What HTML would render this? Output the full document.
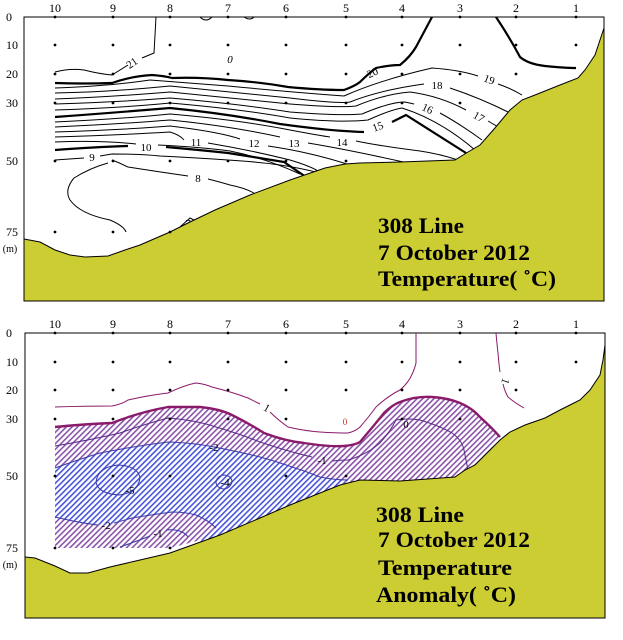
<!DOCTYPE html>
<html><head><meta charset="utf-8"><style>
body{margin:0;background:#fff}
svg{display:block}
text{font-family:"Liberation Serif",serif}
.t{font-size:12px}
.l{font-family:"Liberation Sans",sans-serif;font-size:11px}
.big{font-size:22px;font-weight:bold}
</style></head><body>
<svg width="623" height="640" viewBox="0 0 623 640" xmlns="http://www.w3.org/2000/svg">
<defs>
<pattern id="hp" width="4" height="4" patternUnits="userSpaceOnUse" patternTransform="rotate(45)"><rect width="4" height="4" fill="#fff"/><rect width="1.6" height="4" fill="#8a55aa"/></pattern>
<pattern id="hb" width="4" height="4" patternUnits="userSpaceOnUse" patternTransform="rotate(45)"><rect width="4" height="4" fill="#fff"/><rect width="1.6" height="4" fill="#4a55d8"/></pattern>
</defs>
<!-- TOP PANEL -->
<g>
<rect x="24" y="17" width="580" height="284" fill="#fff" stroke="#000"/>
<g class="t" text-anchor="middle">
<text x="55" y="12">10</text><text x="113" y="12">9</text><text x="170" y="12">8</text><text x="228" y="12">7</text><text x="286" y="12">6</text><text x="346" y="12">5</text><text x="402" y="12">4</text><text x="460" y="12">3</text><text x="516" y="12">2</text><text x="576" y="12">1</text>
<text x="9" y="21">0</text><text x="12" y="49">10</text><text x="12" y="78">20</text><text x="12" y="107">30</text><text x="12" y="165">50</text><text x="12" y="236">75</text><text x="10" y="252" font-size="10">(m)</text>
</g>
<g fill="none" stroke="#000" stroke-width="1">
<path d="M55,72 Q70,68 84,70 Q100,74 112,75 Q120,70 128,65 M142,58 L154,53 L156,17"/>
<path d="M55,88 Q110,86 150,80 Q200,84 228,86 Q290,92 344,96 Q380,80 432,68 Q460,70 478,76 M498,84 Q510,88 522,95"/>
<path d="M55,93 Q110,92 170,86 Q230,92 290,98 Q340,104 350,102 Q380,90 424,84 M450,88 Q480,98 508,112"/>
<path d="M55,99 Q110,97 170,92 Q230,98 290,104 Q340,108 356,106 Q385,94 410,92 Q440,96 466,110 M488,121 L500,128"/>
<path d="M55,104 Q120,102 170,98 Q240,104 290,112 Q340,116 362,114 Q390,102 405,102 L414,104 M440,113 Q460,124 482,140"/>
<path d="M55,110 Q120,108 170,103 Q240,109 290,118 Q340,123 368,120 Q390,110 402,108 Q440,120 475,150"/>
<path d="M55,122 Q120,119 170,114 Q240,120 290,130 Q322,136 330,137 M356,141 Q380,146 420,151 Q440,154 458,160"/>
<path d="M55,127 Q120,124 170,120 Q230,126 280,137 M308,143 Q350,150 408,163"/>
<path d="M55,132 Q120,130 170,126 Q220,132 240,139 M268,146 Q310,152 350,165"/>
<path d="M55,137 Q120,135 170,132 Q180,135 184,140 M208,143 Q250,150 290,160 Q310,166 318,171"/>
<path d="M55,142 Q100,140 136,144 M158,145 Q200,147 230,151 Q265,158 300,174"/>
<path d="M55,160 Q70,159 84,158 M100,156 Q106,155 112,154 Q140,154 160,156 Q200,158 228,160 Q260,162 280,165 Q300,168 320,173"/>
<path d="M112,160 Q120,163 128,167 Q160,172 188,176 M208,179 Q220,182 230,185 Q245,188 254,193"/>
<path d="M108,163 Q90,168 74,178 Q64,190 70,200 Q80,214 110,220 Q124,226 126,232"/>
<path d="M180,227 L190,218 L196,221"/>
<path d="M200,17 Q206,23 212,17 M244,17 Q250,21 254,17"/>
</g>
<g fill="none" stroke="#000" stroke-width="2.2">
<path d="M55,83 Q85,84 112,83 Q132,76 152,75 Q165,76 172,78 Q200,77 228,80 Q260,82 288,87 Q320,90 344,90 Q355,86 360,82 Q368,74 376,68 Q390,65 400,65 Q410,57 416,47 Q425,30 432,17"/>
<path d="M55,117 Q110,113 170,108 Q230,114 280,124 Q330,131 364,132 M392,122 L406,115 L466,153"/>
<path d="M55,150 Q95,147 128,146 M166,147 Q200,150 228,153 Q260,158 284,162 L306,177"/>
<path d="M496,17 Q510,38 520,57 Q528,64 545,66 Q565,68 576,68"/>
</g>
<g class="l" text-anchor="middle">
<text x="134" y="66" transform="rotate(-35 134 66)">21</text><text x="230" y="63" font-style="italic">0</text>
<text x="374" y="76" transform="rotate(-25 374 76)">20</text><text x="488" y="83" transform="rotate(20 488 83)">19</text>
<text x="437" y="89">18</text><text x="477" y="120" transform="rotate(30 477 120)">17</text>
<text x="426" y="112" transform="rotate(25 426 112)">16</text><text x="379" y="130" transform="rotate(-20 379 130)">15</text>
<text x="342" y="146">14</text><text x="294" y="147">13</text><text x="254" y="147">12</text><text x="196" y="146">11</text><text x="146" y="151">10</text><text x="92" y="161">9</text><text x="198" y="182">8</text><text x="188" y="227">7</text>
</g>
<polygon points="24,239 40,242 55,250 70,255 85,257 108,256 125,250 140,245 170,232 190,222 215,210 250,195 290,180 325,168 345,164 360,163 400,162 455,160 468,152 480,145 495,128 510,110 522,100 535,95 560,85 578,78 585,70 595,55 600,40 604,28 604,301 24,301" fill="#cccc33" stroke="#000"/>
<g fill="#000">
<circle cx="55" cy="17" r="1.4"/><circle cx="113" cy="17" r="1.4"/><circle cx="170" cy="17" r="1.4"/><circle cx="228" cy="17" r="1.4"/><circle cx="286" cy="17" r="1.4"/><circle cx="346" cy="17" r="1.4"/><circle cx="402" cy="17" r="1.4"/><circle cx="460" cy="17" r="1.4"/><circle cx="516" cy="17" r="1.4"/><circle cx="576" cy="17" r="1.4"/>
<circle cx="55" cy="45" r="1.4"/><circle cx="113" cy="45" r="1.4"/><circle cx="170" cy="45" r="1.4"/><circle cx="228" cy="45" r="1.4"/><circle cx="286" cy="45" r="1.4"/><circle cx="346" cy="45" r="1.4"/><circle cx="402" cy="45" r="1.4"/><circle cx="460" cy="45" r="1.4"/><circle cx="516" cy="45" r="1.4"/><circle cx="576" cy="45" r="1.4"/>
<circle cx="55" cy="74" r="1.4"/><circle cx="113" cy="74" r="1.4"/><circle cx="170" cy="74" r="1.4"/><circle cx="228" cy="74" r="1.4"/><circle cx="286" cy="74" r="1.4"/><circle cx="346" cy="74" r="1.4"/><circle cx="402" cy="74" r="1.4"/><circle cx="460" cy="74" r="1.4"/><circle cx="516" cy="74" r="1.4"/>
<circle cx="55" cy="103" r="1.4"/><circle cx="113" cy="103" r="1.4"/><circle cx="170" cy="103" r="1.4"/><circle cx="228" cy="103" r="1.4"/><circle cx="286" cy="103" r="1.4"/><circle cx="346" cy="103" r="1.4"/><circle cx="402" cy="103" r="1.4"/><circle cx="460" cy="103" r="1.4"/>
<circle cx="55" cy="161" r="1.4"/><circle cx="113" cy="161" r="1.4"/><circle cx="170" cy="161" r="1.4"/><circle cx="228" cy="161" r="1.4"/><circle cx="286" cy="161" r="1.4"/><circle cx="346" cy="161" r="1.4"/>
<circle cx="55" cy="232" r="1.4"/><circle cx="113" cy="232" r="1.4"/><circle cx="170" cy="232" r="1.4"/>
</g>
<g class="big"><text x="378" y="233" textLength="86" lengthAdjust="spacingAndGlyphs">308 Line</text><text x="378" y="260" textLength="152" lengthAdjust="spacingAndGlyphs">7 October 2012</text><text x="378" y="286" textLength="178" lengthAdjust="spacingAndGlyphs">Temperature( ˚C)</text></g>
</g>

<!-- BOTTOM PANEL -->
<g>
<rect x="25" y="333" width="580" height="285" fill="#fff" stroke="#000"/>
<g class="t" text-anchor="middle">
<text x="55" y="328">10</text><text x="113" y="328">9</text><text x="170" y="328">8</text><text x="228" y="328">7</text><text x="286" y="328">6</text><text x="346" y="328">5</text><text x="402" y="328">4</text><text x="460" y="328">3</text><text x="516" y="328">2</text><text x="576" y="328">1</text>
<text x="9" y="337">0</text><text x="12" y="366">10</text><text x="12" y="394">20</text><text x="12" y="423">30</text><text x="12" y="480">50</text><text x="12" y="552">75</text><text x="10" y="568" font-size="10">(m)</text>
</g>
<path d="M55,427 Q85,424 112,423 Q140,412 168,407 L200,407 Q220,409 232,415 Q250,424 264,433 Q285,441 304,443 Q330,447 344,446 Q355,445 360,442 Q372,428 384,413 Q392,405 400,402 Q416,396 432,397 Q448,398 460,403 Q472,408 480,417 Q492,428 500,437 L490,450 L475,465 L455,477 L400,481 L360,480 L340,485 L290,505 L220,535 L170,548 L55,548 Z" fill="url(#hp)"/>
<path d="M55,468 Q80,459 100,453 Q135,446 168,442 Q195,443 214,447 Q240,452 260,457 Q278,462 292,467 Q308,472 320,477 Q335,480 348,480 L340,485 L290,505 L220,535 L200,542 Q205,535 216,528 Q205,518 196,515 Q180,511 172,512 Q150,515 132,518 Q115,524 106,525 Q80,523 55,517 Z" fill="url(#hb)"/>
<g fill="none" stroke="#3a3aa8" stroke-width="1">
<path d="M55,468 Q80,459 100,453 Q135,446 168,442 Q195,443 214,447 Q240,452 260,457 Q278,462 292,467 Q308,472 320,477 Q335,480 348,480"/>
<path d="M55,517 Q80,523 98,525 M114,523 Q125,520 132,518 Q150,515 172,512 Q185,512 196,515 Q208,520 216,528"/>
<path d="M118,465 Q138,466 140,478 Q138,492 120,495 Q98,494 96,482 Q98,467 118,465 Z"/>
<path d="M224,475 Q232,476 232,482 Q230,489 223,489 Q216,487 216,482 Q217,476 224,475 Z"/>
<path d="M120,547 Q140,540 150,536 M166,530 Q176,529 182,532 Q186,534 188,537"/>
</g>
<g fill="none" stroke="#5a2a8a" stroke-width="1">
<path d="M55,446 Q90,440 120,433 Q145,424 168,418 Q195,420 216,427 Q240,434 260,442 Q290,452 312,457 M332,461 Q340,460 348,460 Q366,455 380,443 Q390,432 396,420 Q408,418 420,420 Q440,426 452,433 Q462,440 464,450 L468,470"/>
</g>
<path d="M55,427 Q85,424 112,423 Q140,412 168,407 L200,407 Q220,409 232,415 Q250,424 264,433 Q285,441 304,443 Q330,447 344,446 Q355,445 360,442 Q372,428 384,413 Q392,405 400,402 Q416,396 432,397 Q448,398 460,403 Q472,408 480,417 Q492,428 500,437" fill="none" stroke="#8a1a6a" stroke-width="2.4"/>
<g fill="none" stroke="#8a1a6a" stroke-width="1">
<path d="M55,407 Q85,406 112,406 Q122,404 128,400 Q150,395 168,393 Q185,385 196,383 Q205,384 212,387 Q232,392 248,398 Q256,402 260,404 M270,412 Q278,420 288,427 Q305,431 320,432 Q335,433 348,433 Q356,431 360,427 Q368,418 376,407 Q388,396 400,390 Q412,380 416,363 L416,333"/>
<path d="M496,333 Q497,345 498,353 Q499,365 500,372 M503,384 Q505,392 508,397 Q515,403 524,408"/>
</g>
<g class="l" text-anchor="middle">
<text x="265" y="411" transform="rotate(30 265 411)">1</text><text x="406" y="428">0</text><text x="345" y="425" fill="#c03020" font-size="9">0</text>
<text x="502" y="380" transform="rotate(110 502 380)">1</text>
<text x="214" y="451">-2</text><text x="322" y="464">-1</text><text x="130" y="494">-5</text><text x="225" y="486">-4</text><text x="106" y="529">-2</text><text x="158" y="537">-1</text>
</g>
<polygon points="25,557 35,558 55,566 70,573 88,573 110,567 140,560 170,553 220,535 260,518 290,505 340,485 360,480 400,481 455,477 465,470 475,465 490,450 500,440 510,432 525,425 545,418 560,410 570,405 580,400 590,390 600,375 603,360 605,345 605,618 25,618" fill="#cccc33" stroke="#000"/>
<g fill="#000">
<circle cx="55" cy="333" r="1.4"/><circle cx="113" cy="333" r="1.4"/><circle cx="170" cy="333" r="1.4"/><circle cx="228" cy="333" r="1.4"/><circle cx="286" cy="333" r="1.4"/><circle cx="346" cy="333" r="1.4"/><circle cx="402" cy="333" r="1.4"/><circle cx="460" cy="333" r="1.4"/><circle cx="516" cy="333" r="1.4"/><circle cx="576" cy="333" r="1.4"/>
<circle cx="55" cy="362" r="1.4"/><circle cx="113" cy="362" r="1.4"/><circle cx="170" cy="362" r="1.4"/><circle cx="228" cy="362" r="1.4"/><circle cx="286" cy="362" r="1.4"/><circle cx="346" cy="362" r="1.4"/><circle cx="402" cy="362" r="1.4"/><circle cx="460" cy="362" r="1.4"/><circle cx="516" cy="362" r="1.4"/><circle cx="576" cy="362" r="1.4"/>
<circle cx="55" cy="390" r="1.4"/><circle cx="113" cy="390" r="1.4"/><circle cx="170" cy="390" r="1.4"/><circle cx="228" cy="390" r="1.4"/><circle cx="286" cy="390" r="1.4"/><circle cx="346" cy="390" r="1.4"/><circle cx="402" cy="390" r="1.4"/><circle cx="460" cy="390" r="1.4"/><circle cx="516" cy="390" r="1.4"/>
<circle cx="55" cy="419" r="1.4"/><circle cx="113" cy="419" r="1.4"/><circle cx="170" cy="419" r="1.4"/><circle cx="228" cy="419" r="1.4"/><circle cx="286" cy="419" r="1.4"/><circle cx="402" cy="419" r="1.4"/><circle cx="460" cy="419" r="1.4"/>
<circle cx="55" cy="476" r="1.4"/><circle cx="113" cy="476" r="1.4"/><circle cx="170" cy="476" r="1.4"/><circle cx="286" cy="476" r="1.4"/><circle cx="346" cy="476" r="1.4"/>
<circle cx="55" cy="548" r="1.4"/><circle cx="113" cy="548" r="1.4"/><circle cx="170" cy="548" r="1.4"/>
</g>
<g class="big"><text x="376" y="522" textLength="88" lengthAdjust="spacingAndGlyphs">308 Line</text><text x="378" y="547" textLength="152" lengthAdjust="spacingAndGlyphs">7 October 2012</text><text x="378" y="575" textLength="134" lengthAdjust="spacingAndGlyphs">Temperature</text><text x="376" y="602" textLength="140" lengthAdjust="spacingAndGlyphs">Anomaly( ˚C)</text></g>
</g>
</svg>
</body></html>
